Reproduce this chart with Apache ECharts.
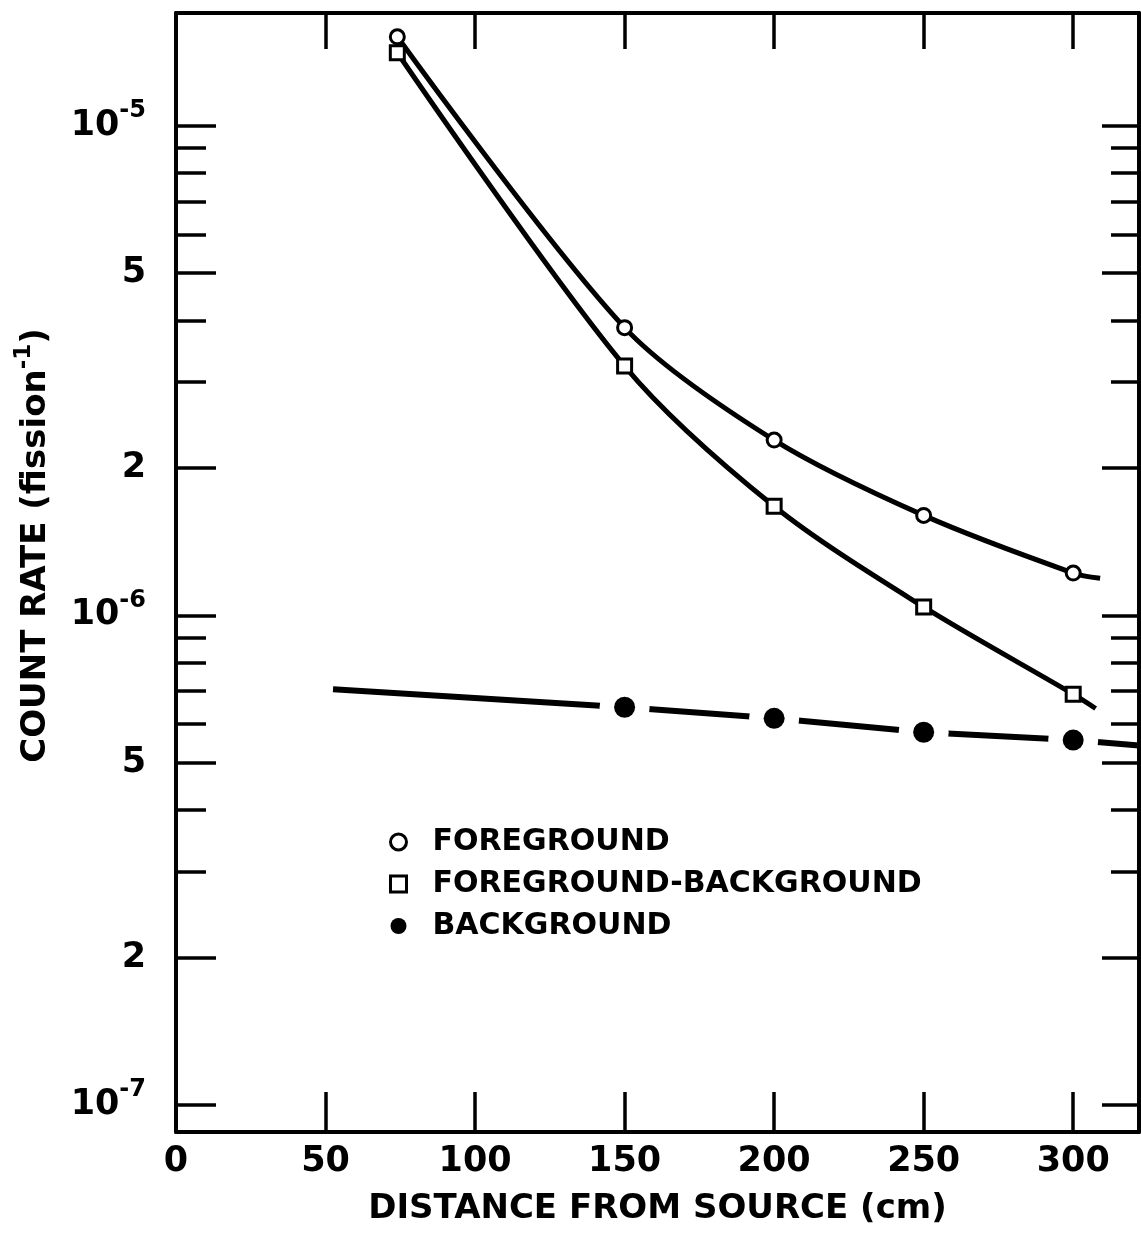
<!DOCTYPE html>
<html>
<head>
<meta charset="utf-8">
<script src="https://cdn.jsdelivr.net/npm/echarts@6/dist/echarts.min.js"></script>
<style>
  html, body { margin: 0; padding: 0; background: #fff; }
  #chart { width: 1141px; height: 1236px; }
</style>
</head>
<body>
<div id="chart"></div>
<script>
// count rate vs distance
var xTicks = [0, 50, 100, 150, 200, 250, 300];
var yMajor = [1e-7, 2e-7, 5e-7, 1e-6, 2e-6, 5e-6, 1e-5];
var yMajorLabels = ['10^-7', '2', '5', '10^-6', '2', '5', '10^-5'];
var yMinor = [3e-7, 4e-7, 6e-7, 7e-7, 8e-7, 9e-7, 3e-6, 4e-6, 6e-6, 7e-6, 8e-6, 9e-6];

var fgX = [74, 150, 200, 250, 300];
var fgY = [1.52e-5, 3.87e-6, 2.28e-6, 1.60e-6, 1.22e-6];
var fgEnd = [309, 1.19e-6];

var fbX = [74, 150, 200, 250, 300];
var fbY = [1.41e-5, 3.23e-6, 1.67e-6, 1.04e-6, 6.9e-7];
var fbEnd = [307.5, 6.45e-7];

var bgX = [150, 200, 250, 300];
var bgY = [6.49e-7, 6.16e-7, 5.77e-7, 5.56e-7];
var bgStart = [52.5, 7.06e-7];
var bgEnd = [322, 5.42e-7];

var FONT = 'DejaVu Sans';
var xMax = 322, yMin = 8.8e-8, yMax = 1.70e-5;

function pts(xs, ys) {
    return xs.map(function (x, i) { return [x, ys[i]]; });
}

function yLabel(v) {
    var i = 0, best = 1e9;
    yMajor.forEach(function (t, k) {
        var d = Math.abs(Math.log10(t) - Math.log10(v));
        if (d < best) { best = d; i = k; }
    });
    var s = yMajorLabels[i];
    if (s.indexOf('^') >= 0) {
        var p = s.split('^');
        return '{b|' + p[0] + '}{s|' + p[1] + '}';
    }
    return '{b|' + s + '}';
}

var richLabel = {
    b: { fontFamily: FONT, fontWeight: 'bold', fontSize: 35, lineHeight: 36, color: '#000' },
    s: { fontFamily: FONT, fontWeight: 'bold', fontSize: 24, lineHeight: 24, color: '#000', padding: [0, 0, 30, 0] }
};

var axisLine = { show: true, onZero: false, lineStyle: { color: '#000', width: 4 } };

var myChart = echarts.init(document.getElementById('chart'));
var option = {
    animation: false,
    backgroundColor: '#fff',
    grid: { left: 176, right: 2, top: 13, bottom: 104 },
    xAxis: [{
        type: 'value', min: 0, max: xMax, position: 'bottom',
        axisLine: axisLine,
        axisTick: { show: true, inside: true, length: 40, customValues: xTicks.slice(1), lineStyle: { color: '#000', width: 3.5 } },
        axisLabel: { customValues: xTicks, margin: 12, fontFamily: FONT, fontWeight: 'bold', fontSize: 35, color: '#000' },
        splitLine: { show: false },
        name: 'DISTANCE FROM SOURCE (cm)',
        nameLocation: 'middle',
        nameGap: 60,
        nameTextStyle: { fontFamily: FONT, fontWeight: 'bold', fontSize: 34, color: '#000' }
    }, {
        type: 'value', min: 0, max: xMax, position: 'top',
        axisLine: axisLine,
        axisTick: { show: true, inside: true, length: 36, customValues: xTicks.slice(1), lineStyle: { color: '#000', width: 3.5 } },
        axisLabel: { show: false },
        splitLine: { show: false }
    }],
    yAxis: [{
        type: 'log', min: yMin, max: yMax, position: 'left',
        axisLine: axisLine,
        axisTick: { show: true, inside: true, length: 40, customValues: yMajor, lineStyle: { color: '#000', width: 3.5 } },
        axisLabel: { customValues: yMajor, margin: 30, formatter: yLabel, rich: richLabel },
        splitLine: { show: false },
        name: '{b|COUNT RATE (fission}{s|-1}{b|)}',
        nameLocation: 'middle',
        nameGap: 112,
        nameRotate: 90,
        nameTextStyle: {
            padding: [0, 0, 0, 54],
            rich: {
                b: { fontFamily: FONT, fontWeight: 'bold', fontSize: 34, lineHeight: 36, color: '#000' },
                s: { fontFamily: FONT, fontWeight: 'bold', fontSize: 23, lineHeight: 23, color: '#000', padding: [0, 0, 24, 0] }
            }
        }
    }, {
        type: 'log', min: yMin, max: yMax, position: 'left',
        axisLine: { show: false, onZero: false },
        axisTick: { show: true, inside: true, length: 30, customValues: yMinor, lineStyle: { color: '#000', width: 3.5 } },
        axisLabel: { show: false },
        splitLine: { show: false }
    }, {
        type: 'log', min: yMin, max: yMax, position: 'right',
        axisLine: axisLine,
        axisTick: { show: true, inside: true, length: 37, customValues: yMajor, lineStyle: { color: '#000', width: 3.5 } },
        axisLabel: { show: false },
        splitLine: { show: false }
    }, {
        type: 'log', min: yMin, max: yMax, position: 'right',
        axisLine: { show: false, onZero: false },
        axisTick: { show: true, inside: true, length: 28, customValues: yMinor, lineStyle: { color: '#000', width: 3.5 } },
        axisLabel: { show: false },
        splitLine: { show: false }
    }],
    legend: {
        orient: 'vertical',
        left: 384,
        top: 821,
        itemWidth: 16,
        itemHeight: 16,
        itemGap: 10,
        selectedMode: false,
        textStyle: { fontFamily: FONT, fontWeight: 'bold', fontSize: 30, lineHeight: 32, color: '#000', padding: [0, 0, 0, 21] },
        data: [
            { name: 'FOREGROUND', icon: 'circle', itemStyle: { color: '#fff', borderColor: '#000', borderWidth: 3, opacity: 1 } },
            { name: 'FOREGROUND-BACKGROUND', icon: 'rect', itemStyle: { color: '#fff', borderColor: '#000', borderWidth: 3, opacity: 1 } },
            { name: 'BACKGROUND', icon: 'circle', itemStyle: { color: '#000', borderWidth: 0, opacity: 1 } }
        ]
    },
    series: [{
        // background trend line; white discs open a gap round each dot
        name: 'bg-line',
        type: 'line',
        z: 1,
        symbol: 'circle',
        symbolSize: 50,
        showAllSymbol: true,
        itemStyle: { color: '#fff', borderWidth: 0 },
        lineStyle: { color: '#000', width: 6 },
        emphasis: { disabled: true },
        data: [{ value: bgStart, symbol: 'none' }].concat(pts(bgX, bgY), [{ value: bgEnd, symbol: 'none' }])
    }, {
        name: 'FOREGROUND',
        type: 'line',
        z: 2,
        smooth: 0.3,
        symbol: 'circle',
        symbolSize: 14,
        showAllSymbol: true,
        itemStyle: { color: '#fff', borderColor: '#000', borderWidth: 3 },
        lineStyle: { color: '#000', width: 5 },
        emphasis: { disabled: true },
        data: pts(fgX, fgY).concat([{ value: fgEnd, symbol: 'none' }])
    }, {
        name: 'FOREGROUND-BACKGROUND',
        type: 'line',
        z: 2,
        smooth: 0.3,
        symbol: 'rect',
        symbolSize: 14,
        showAllSymbol: true,
        itemStyle: { color: '#fff', borderColor: '#000', borderWidth: 3 },
        lineStyle: { color: '#000', width: 5 },
        emphasis: { disabled: true },
        data: pts(fbX, fbY).concat([{ value: fbEnd, symbol: 'none' }])
    }, {
        name: 'BACKGROUND',
        type: 'scatter',
        z: 3,
        symbol: 'circle',
        symbolSize: 21,
        itemStyle: { color: '#000', opacity: 1 },
        emphasis: { disabled: true },
        data: pts(bgX, bgY)
    }]
};
myChart.setOption(option);
</script>
</body>
</html>
